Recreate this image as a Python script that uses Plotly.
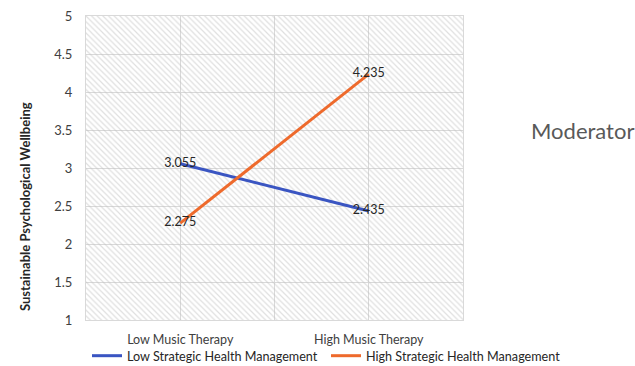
import plotly.graph_objects as go

categories = ["Low Music Therapy", "High Music Therapy"]
series_names = ["Low Strategic Health Management", "High Strategic Health Management"]
low_shm = [3.055, 2.435]
high_shm = [2.275, 4.235]
series_colors = ["#3A55C2", "#EE6A2C"]
y_ticks = [1, 1.5, 2, 2.5, 3, 3.5, 4, 4.5, 5]

xpos = list(range(len(categories)))
x_lo, x_hi = -0.5, len(categories) - 0.5
y_lo, y_hi = y_ticks[0], y_ticks[-1]

fig = go.Figure()

# hatched plot-area background
fig.add_trace(go.Scatter(
    x=[x_lo, x_hi, x_hi, x_lo, x_lo], y=[y_lo, y_lo, y_hi, y_hi, y_lo],
    mode="lines", line=dict(width=0), fill="toself",
    fillcolor="rgba(0,0,0,0)",
    fillpattern=dict(shape="\\", fgcolor="#c0c0c0", bgcolor="rgba(255,255,255,0)", size=4, solidity=0.3),
    showlegend=False, hoverinfo="skip"))

legend_ids = ["legend", "legend2"]
for name, vals, col, lg in zip(series_names, [low_shm, high_shm], series_colors, legend_ids):
    fig.add_trace(go.Scatter(
        x=xpos, y=vals, name=name, mode="lines+text",
        line=dict(color=col, width=3),
        text=[f"{v:.3f}" for v in vals], textposition="middle center",
        textfont=dict(family="Lato, Liberation Sans, sans-serif", size=12.5, color="#262626"),
        cliponaxis=False, legend=lg))

legend_common = dict(orientation="h", xref="container", yref="container",
                     xanchor="left", yanchor="middle",
                     font=dict(size=12.6, color="#262626"), bgcolor="rgba(0,0,0,0)",
                     itemwidth=30)

fig.update_layout(
    width=635, height=366,
    margin=dict(l=86, r=172, t=16, b=46, autoexpand=False),
    paper_bgcolor="white", plot_bgcolor="white",
    font=dict(family="Lato, Liberation Sans, sans-serif", size=12, color="#404040"),
    showlegend=True,
    legend=dict(x=87 / 635, y=10 / 366, **legend_common),
    legend2=dict(x=326 / 635, y=10 / 366, **legend_common),
    annotations=[
        dict(text="<b>Sustainable Psychological Wellbeing</b>", xref="paper", yref="paper",
             x=-0.188, y=0.372, textangle=-90, showarrow=False,
             font=dict(size=13, color="#262626")),
        dict(text="Moderator", xref="paper", yref="paper", x=1.174, y=0.625,
             xanchor="left", yanchor="middle", showarrow=False,
             font=dict(size=22, color="#595959")),
    ],
)

fig.update_xaxes(range=[x_lo, x_hi], tickvals=xpos, ticktext=categories,
                 showgrid=True, gridcolor="#d9d9d9", gridwidth=1,
                 minor=dict(dtick=0.5, tick0=0, showgrid=True, gridcolor="#d9d9d9"),
                 showline=True, linecolor="#d9d9d9", mirror=True, zeroline=False,
                 ticks="", tickfont=dict(size=12.5, color="#404040"), ticklabelstandoff=8)
fig.update_yaxes(range=[y_lo, y_hi], tickvals=y_ticks, ticktext=[f"{v:g}" for v in y_ticks],
                 showgrid=True, gridcolor="#d9d9d9", gridwidth=1,
                 showline=True, linecolor="#d9d9d9", mirror=True, zeroline=False,
                 ticks="", tickfont=dict(size=13, color="#404040"), ticklabelstandoff=10)

fig.write_html("out.html")
